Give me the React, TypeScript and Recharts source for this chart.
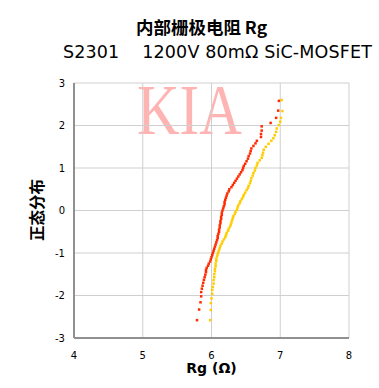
import React from 'react';
import { ScatterChart, Scatter, XAxis, YAxis, CartesianGrid } from 'recharts';

// Rg values (Ω) and normal quantiles, lot 1 (red)
const redRg = [
  5.79, 5.82, 5.84, 5.85, 5.85, 5.86, 5.87, 5.88, 5.89, 5.90, 5.91, 5.92, 5.92, 5.93, 5.95, 5.96,
  5.98, 5.99, 6.00, 6.01, 6.02, 6.03, 6.04, 6.05, 6.06, 6.07, 6.08, 6.09, 6.09, 6.10, 6.11, 6.11,
  6.12, 6.12, 6.13, 6.13, 6.14, 6.14, 6.15, 6.15, 6.16, 6.17, 6.18, 6.19, 6.19, 6.20, 6.21, 6.22,
  6.23, 6.25, 6.26, 6.29, 6.31, 6.33, 6.35, 6.37, 6.39, 6.41, 6.43, 6.45, 6.46, 6.47, 6.49, 6.51,
  6.53, 6.54, 6.56, 6.57, 6.58, 6.61, 6.64, 6.66, 6.72, 6.72, 6.73, 6.73, 6.86, 6.94, 6.97, 6.98,
];
const redZ = [
  -2.58, -2.33, -2.16, -2.02, -1.92, -1.84, -1.77, -1.70, -1.63, -1.57, -1.51, -1.45, -1.40, -1.35, -1.30, -1.25,
  -1.20, -1.15, -1.10, -1.05, -1.00, -0.95, -0.90, -0.85, -0.80, -0.75, -0.70, -0.65, -0.60, -0.55, -0.50, -0.45,
  -0.40, -0.35, -0.30, -0.25, -0.20, -0.15, -0.10, -0.05, 0.00, 0.05, 0.10, 0.15, 0.20, 0.25, 0.30, 0.35,
  0.40, 0.45, 0.50, 0.55, 0.60, 0.65, 0.70, 0.75, 0.80, 0.85, 0.90, 0.95, 1.00, 1.05, 1.10, 1.16,
  1.22, 1.28, 1.34, 1.40, 1.46, 1.52, 1.58, 1.64, 1.73, 1.80, 1.88, 1.98, 2.06, 2.18, 2.35, 2.58,
];

// lot 2 (yellow)
const yellowRg = [
  5.98, 5.99, 5.99, 6.00, 6.01, 6.01, 6.02, 6.03, 6.03, 6.04, 6.04, 6.05, 6.05, 6.06, 6.06, 6.07,
  6.07, 6.08, 6.09, 6.10, 6.11, 6.12, 6.13, 6.15, 6.16, 6.18, 6.20, 6.21, 6.22, 6.24, 6.25, 6.27,
  6.28, 6.29, 6.30, 6.31, 6.32, 6.34, 6.35, 6.37, 6.38, 6.39, 6.41, 6.42, 6.44, 6.46, 6.47, 6.49,
  6.51, 6.53, 6.54, 6.56, 6.57, 6.58, 6.60, 6.61, 6.63, 6.64, 6.66, 6.67, 6.70, 6.73, 6.74, 6.75,
  6.76, 6.79, 6.83, 6.87, 6.90, 6.92, 6.94, 6.95, 6.98, 7.00, 7.01, 7.03, 7.02,
];
const yellowZ = [
  -2.58, -2.34, -2.18, -2.07, -1.96, -1.87, -1.80, -1.72, -1.64, -1.57, -1.50, -1.43, -1.37, -1.31, -1.25, -1.19,
  -1.14, -1.08, -1.03, -0.98, -0.93, -0.88, -0.83, -0.78, -0.73, -0.68, -0.63, -0.58, -0.53, -0.48, -0.43, -0.38,
  -0.33, -0.28, -0.23, -0.18, -0.13, -0.08, -0.03, 0.02, 0.07, 0.12, 0.17, 0.22, 0.27, 0.32, 0.37, 0.42,
  0.48, 0.53, 0.58, 0.64, 0.70, 0.76, 0.82, 0.88, 0.94, 1.00, 1.06, 1.12, 1.18, 1.24, 1.30, 1.36,
  1.43, 1.50, 1.57, 1.64, 1.70, 1.77, 1.85, 1.93, 2.01, 2.09, 2.18, 2.34, 2.60,
];

const xTicks = [4, 5, 6, 7, 8];
const yTicks = [-3, -2, -1, 0, 1, 2, 3];

const redData = redRg.map((rg, i) => ({ rg, z: redZ[i] }));
const yellowData = yellowRg.map((rg, i) => ({ rg, z: yellowZ[i] }));

const dot = (color: string) => (props: any) => (
  <rect x={props.cx - 1.25} y={props.cy - 1.25} width={2.5} height={2.5} fill={color} />
);

const tickStyle = { fontSize: 10, fill: '#000', fontFamily: 'DejaVu Sans' };

export default function App() {
  return (
    <div style={{ position: 'absolute', left: 0, top: 0, width: 379, height: 388, background: '#fff' }}>
      <div
        style={{
          position: 'absolute', left: 0, width: 379, top: 16, textAlign: 'center', paddingLeft: 24,
          boxSizing: 'border-box', fontFamily: '"Noto Sans CJK SC"', fontWeight: 700, fontSize: 17.5, lineHeight: '22px',
        }}
      >
        内部栅极电阻 Rg
      </div>
      <div
        style={{
          position: 'absolute', left: 63, top: 41, whiteSpace: 'pre', letterSpacing: 0.15,
          fontFamily: '"DejaVu Sans"', fontSize: 17.5, lineHeight: '22px',
        }}
      >
        {'S2301    1200V 80mΩ SiC-MOSFET'}
      </div>
      <div
        style={{
          position: 'absolute', left: 137, top: 70, fontFamily: '"Liberation Serif"', fontSize: 71,
          color: '#ffb4b4', lineHeight: '80px', transform: 'scaleX(0.83)', transformOrigin: 'left top',
        }}
      >
        KIA
      </div>
      <ScatterChart width={379} height={388} margin={{ top: 83, right: 30, bottom: 20, left: 44 }}>
        <CartesianGrid stroke="#cfcfcf" strokeWidth={1} horizontal vertical />
        <XAxis
          type="number" dataKey="rg" domain={[4, 8]} ticks={xTicks} height={30}
          stroke="#909090" strokeWidth={2} tickLine={false} tickMargin={8} tick={tickStyle}
        />
        <YAxis
          type="number" dataKey="z" domain={[-3, 3]} ticks={yTicks} width={30}
          stroke="#909090" strokeWidth={2} tickLine={false} tickMargin={3} tick={tickStyle}
        />
        <Scatter data={yellowData} fill="#ffcc00" shape={dot('#ffcc00')} isAnimationActive={false} />
        <Scatter data={redData} fill="#ff2a00" shape={dot('#ff2a00')} isAnimationActive={false} />
      </ScatterChart>
      <div
        style={{
          position: 'absolute', left: 36, top: 210, transform: 'translate(-50%, -50%) rotate(-90deg)',
          transformOrigin: 'center', fontFamily: '"Noto Sans CJK SC"', fontWeight: 700, fontSize: 15.5,
          whiteSpace: 'nowrap',
        }}
      >
        正态分布
      </div>
      <div
        style={{
          position: 'absolute', left: 74, width: 275, top: 358, textAlign: 'center',
          fontFamily: '"DejaVu Sans"', fontWeight: 700, fontSize: 14, lineHeight: '20px',
        }}
      >
        Rg (Ω)
      </div>
    </div>
  );
}
